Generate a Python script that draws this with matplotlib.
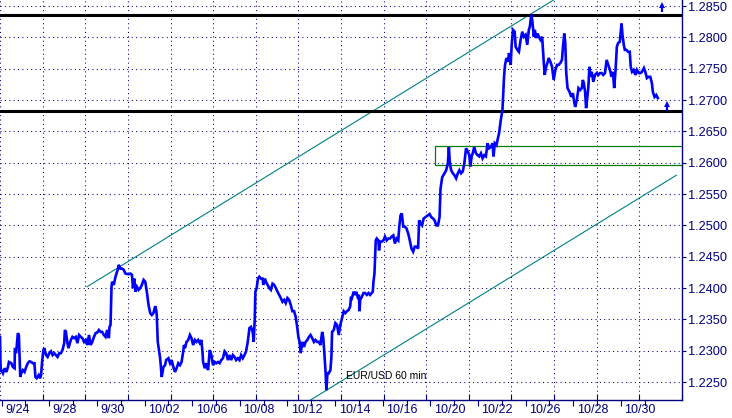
import matplotlib
matplotlib.use("Agg")
import matplotlib.pyplot as plt
import matplotlib.transforms as mtransforms
import numpy as np

# ---- data: hourly bar offset (hours since 9/24) and EUR/USD price ----
hours = [-1.7, -1, -0.3, 1.3, 3, 4.7, 6.3, 7.3, 9.7, 11.3, 13, 13.3, 14.7, 16.3, 17.3, 18, 18.7, 19.7,
         21.3, 23, 24.7, 26.3, 28, 29.7, 31.3, 33, 34, 35.3, 37.3, 38.7, 39.7, 40.7, 42, 43, 44.7,
         46.3, 48, 49.7, 51.3, 53, 54.7, 56.3, 58, 59.7, 61.3, 63, 63.7, 64.7, 66.3, 67.3, 68.7,
         69.7, 71.3, 73, 74.7, 76.3, 78, 79.7, 81.3, 83, 84.7, 86.3, 88, 89.7, 91.3, 93, 94.7, 96.3,
         98, 99.7, 101.3, 103, 104.7, 106.3, 108, 108.7, 109.7, 110.7, 111.3, 113, 114.7, 116.3,
         117.3, 118, 119.7, 121.3, 123, 124.7, 128, 129.7, 131.3, 132.3, 133.7, 134.7, 136.3, 138,
         139.7, 141.3, 143, 144.7, 146.3, 148, 149.7, 151.3, 153, 154.7, 155.7, 156.3, 157.3, 158.7,
         159.7, 161.3, 163, 164.7, 165.7, 168, 169.7, 171.3, 173, 174.7, 176.3, 178, 179.7, 181.3,
         183, 183.7, 184.7, 186.3, 188, 189.7, 191.3, 193, 194.7, 196.3, 198, 199.7, 201.3, 202.3,
         203, 204.7, 206.3, 208, 209.7, 211.3, 213, 214.7, 216.3, 218, 219.7, 221.3, 223, 224.7,
         226.3, 228, 229.7, 231.3, 233, 234.7, 236.3, 238, 239.7, 241.3, 243, 244.7, 246.3, 248,
         249.7, 251.3, 253, 254, 255, 255.7, 257, 258.3, 259.7, 261.3, 263, 263.7, 265.3, 266.3,
         268, 269.7, 271.3, 273, 274.7, 276.3, 278, 279.7, 281.3, 283, 284.7, 286.3, 288, 289.7,
         291.3, 293, 294.7, 296.3, 298, 299, 300.3, 301.3, 303, 304.7, 306.3, 308, 309.7, 311.3,
         313, 314.7, 316.3, 318, 319.7, 321.3, 323, 324, 325, 326.3, 327.3, 328.3, 329.7, 331.3,
         332.3, 333, 334.7, 336.3, 338, 339.7, 341.3, 343, 344.7, 346.3, 348, 349.7, 351.3, 352,
         353, 354.7, 356.3, 357.3, 358.7, 360, 360.7, 361.3, 363, 364.7, 366.3, 368, 369.7, 371.3,
         373, 374, 374.7, 375.7, 376.3, 377, 378, 379.7, 380.3, 381.3, 383, 384.7, 386.3, 388,
         389.7, 391.3, 393, 394.7, 396.3, 398, 399.7, 400.7, 402, 403.3, 404.7, 406.3, 408, 409.7,
         411.3, 413, 414.7, 416.3, 418, 419.7, 420.7, 422.3, 423.7, 425.3, 427, 429.7, 431.3, 433,
         434.7, 436.3, 438, 439.7, 441.3, 442.3, 444, 446.3, 448, 449.7, 450.7, 451.7, 453, 454.7,
         456.3, 458, 459.7, 461.3, 463, 464.7, 466.3, 468, 469.7, 471.3, 472.3, 473.7, 474.7, 476.3,
         478, 479.7, 481.3, 483, 484.7, 486.3, 488, 489.7, 491.3, 493, 494.7, 495.7, 497, 498.7,
         499.7, 501.3, 503, 504.7, 505.7, 506.3, 507.3, 508.7, 510.3, 511.3, 513, 514, 515.3, 517,
         518, 519.7, 521.3, 523, 524.7, 526.3, 528, 529.7, 531.3, 532.3, 533.7, 534.7, 536.3, 537.3,
         538.7, 540.3, 541.3, 543, 544.7, 546.3, 547.3, 548.7, 550, 551.3, 553, 554.7, 556.3, 558,
         559.7, 561.3, 563, 564.7, 565.7, 567, 568, 569, 570.3, 572.3, 574, 575.7, 577, 578, 579.7,
         581.3, 583, 584.7, 585.7, 586.7, 588, 589, 590.3, 591.3, 592.3, 593.7, 594.7, 596.3, 598,
         599.7, 601.3, 603, 604.7, 606.3, 608, 609.7, 611.3, 613, 614.7, 616, 617.3, 618.7, 620,
         621.3, 623, 624.7, 625.7, 627, 628, 629.7, 631.3, 633, 634, 635.3, 637, 638.7, 640.3, 642,
         643.7, 645.3, 647.3, 648.7, 650.3, 652, 653.7, 655.3, 656.3, 658, 659.7, 661.3]

price = [1.2322, 1.2266, 1.2269, 1.2264, 1.2272, 1.2266, 1.2274, 1.2282, 1.2280, 1.2274, 1.2272, 1.2301,
         1.2299, 1.2328, 1.2325, 1.2293, 1.2258, 1.2264, 1.2269, 1.2266, 1.2274, 1.2280, 1.2283,
         1.2282, 1.2280, 1.2280, 1.2258, 1.2256, 1.2261, 1.2256, 1.2261, 1.2282, 1.2301, 1.2304,
         1.2293, 1.2290, 1.2296, 1.2299, 1.2293, 1.2296, 1.2293, 1.2290, 1.2296, 1.2296, 1.2301,
         1.2312, 1.2333, 1.2330, 1.2312, 1.2304, 1.2312, 1.2317, 1.2322, 1.2320, 1.2322, 1.2312,
         1.2325, 1.2322, 1.2320, 1.2314, 1.2317, 1.2309, 1.2325, 1.2309, 1.2314, 1.2322, 1.2328,
         1.2329, 1.2333, 1.2330, 1.2330, 1.2325, 1.2322, 1.2333, 1.2320, 1.2338, 1.2341, 1.2402,
         1.2410, 1.2405, 1.2418, 1.2426, 1.2431, 1.2437, 1.2431, 1.2431, 1.2429, 1.2423, 1.2422,
         1.2423, 1.2421, 1.2400, 1.2415, 1.2394, 1.2402, 1.2397, 1.2400, 1.2405, 1.2413, 1.2410,
         1.2394, 1.2373, 1.2360, 1.2357, 1.2360, 1.2371, 1.2365, 1.2357, 1.2314, 1.2299, 1.2288,
         1.2258, 1.2274, 1.2277, 1.2285, 1.2288, 1.2280, 1.2285, 1.2274, 1.2266, 1.2272, 1.2280,
         1.2277, 1.2282, 1.2299, 1.2309, 1.2304, 1.2314, 1.2317, 1.2325, 1.2320, 1.2309, 1.2317,
         1.2314, 1.2317, 1.2312, 1.2317, 1.2299, 1.2282, 1.2272, 1.2280, 1.2269, 1.2301, 1.2293,
         1.2277, 1.2282, 1.2280, 1.2282, 1.2280, 1.2285, 1.2288, 1.2299, 1.2296, 1.2285, 1.2293,
         1.2285, 1.2293, 1.2290, 1.2285, 1.2288, 1.2285, 1.2293, 1.2288, 1.2293, 1.2299, 1.2314,
         1.2336, 1.2338, 1.2330, 1.2314, 1.2349, 1.2394, 1.2400, 1.2415, 1.2418, 1.2415, 1.2415,
         1.2405, 1.2415, 1.2410, 1.2405, 1.2400, 1.2397, 1.2407, 1.2405, 1.2400, 1.2394, 1.2389,
         1.2384, 1.2378, 1.2381, 1.2376, 1.2384, 1.2381, 1.2373, 1.2363, 1.2363, 1.2354, 1.2336,
         1.2322, 1.2314, 1.2296, 1.2314, 1.2306, 1.2314, 1.2317, 1.2322, 1.2325, 1.2320, 1.2314,
         1.2317, 1.2314, 1.2314, 1.2309, 1.2330, 1.2322, 1.2301, 1.2269, 1.2237, 1.2264, 1.2264,
         1.2269, 1.2290, 1.2330, 1.2333, 1.2344, 1.2341, 1.2325, 1.2341, 1.2352, 1.2363, 1.2360,
         1.2363, 1.2365, 1.2371, 1.2386, 1.2384, 1.2394, 1.2389, 1.2394, 1.2386, 1.2389, 1.2363,
         1.2381, 1.2386, 1.2392, 1.2392, 1.2389, 1.2392, 1.2389, 1.2392, 1.2394, 1.2410, 1.2423,
         1.2447, 1.2476, 1.2479, 1.2476, 1.2460, 1.2474, 1.2474, 1.2476, 1.2482, 1.2476, 1.2479,
         1.2479, 1.2482, 1.2484, 1.2471, 1.2479, 1.2476, 1.2498, 1.2516, 1.2519, 1.2498, 1.2498,
         1.2495, 1.2487, 1.2476, 1.2463, 1.2458, 1.2466, 1.2466, 1.2463, 1.2508, 1.2503, 1.2500,
         1.2511, 1.2513, 1.2516, 1.2518, 1.2513, 1.2511, 1.2508, 1.2500, 1.2500, 1.2513, 1.2559,
         1.2577, 1.2583, 1.2588, 1.2599, 1.2625, 1.2599, 1.2588, 1.2583, 1.2580, 1.2575, 1.2583,
         1.2588, 1.2583, 1.2586, 1.2599, 1.2623, 1.2618, 1.2612, 1.2594, 1.2610, 1.2615, 1.2625,
         1.2615, 1.2612, 1.2610, 1.2615, 1.2607, 1.2612, 1.2610, 1.2631, 1.2623, 1.2625, 1.2631,
         1.2610, 1.2631, 1.2628, 1.2636, 1.2647, 1.2668, 1.2684, 1.2716, 1.2737, 1.2756, 1.2767,
         1.2761, 1.2775, 1.2756, 1.2788, 1.2812, 1.2809, 1.2785, 1.2780, 1.2777, 1.2796, 1.2809,
         1.2801, 1.2804, 1.2788, 1.2812, 1.2817, 1.2836, 1.2828, 1.2801, 1.2812, 1.2799, 1.2806,
         1.2801, 1.2796, 1.2801, 1.2761, 1.2740, 1.2753, 1.2759, 1.2767, 1.2761, 1.2753, 1.2732,
         1.2748, 1.2756, 1.2756, 1.2759, 1.2764, 1.2785, 1.2806, 1.2791, 1.2743, 1.2719, 1.2713,
         1.2705, 1.2711, 1.2697, 1.2689, 1.2700, 1.2719, 1.2716, 1.2719, 1.2732, 1.2727, 1.2713,
         1.2687, 1.2705, 1.2721, 1.2753, 1.2737, 1.2745, 1.2729, 1.2740, 1.2743, 1.2740, 1.2743,
         1.2743, 1.2740, 1.2743, 1.2764, 1.2756, 1.2748, 1.2737, 1.2745, 1.2719, 1.2748, 1.2785,
         1.2791, 1.2793, 1.2822, 1.2804, 1.2788, 1.2780, 1.2780, 1.2777, 1.2777, 1.2753, 1.2745,
         1.2748, 1.2740, 1.2748, 1.2743, 1.2743, 1.2745, 1.2751, 1.2745, 1.2735, 1.2737, 1.2737,
         1.2727, 1.2713, 1.2705, 1.2708, 1.2703]

# tick labels (every 2 trading days = 48 hourly bars)
date_labels = ["9/24", "9/28", "9/30", "10/02", "10/06", "10/08", "10/12", "10/14",
               "10/16", "10/20", "10/22", "10/26", "10/28", "10/30"]
y_ticks = [1.2250, 1.2300, 1.2350, 1.2400, 1.2450, 1.2500, 1.2550, 1.2600,
           1.2650, 1.2700, 1.2750, 1.2800, 1.2850]

# annotation levels
resistance = 1.2836
support = 1.2683
zone_start, zone_low, zone_high = 437.0, 1.2597, 1.2627
upper_channel_x = [86, 570]
upper_channel_y = [1.2402, 1.2873]
lower_channel_x = [311, 680]
lower_channel_y = [1.2221, 1.2580]
arrow1 = (665, 1.2841, 1.2855)
arrow2 = (671, 1.2683, 1.2697)

NAVY = "#000080"
plt.rcParams['font.family'] = ['Liberation Sans', 'DejaVu Sans']

fig = plt.figure(figsize=(7.32, 4.18), dpi=100)
ax = fig.add_axes([0, 18/418, 682/732, 400/418])
ax.set_xlim(-1.7, 679)
ax.set_ylim(1.22213, 1.28596)

# grid
grid_x = [-1.7 + 42.96 * k for k in range(17)]
for gx in grid_x:
    ax.axvline(gx, color=NAVY, lw=0.75, ls=(0, (1, 3.2)), zorder=1)
for gy in y_ticks:
    ax.axhline(gy, color=NAVY, lw=0.75, ls=(0, (1, 3.2)), zorder=1)

# channel lines
ax.plot(upper_channel_x, upper_channel_y, color="#008080", lw=0.8, zorder=2)
ax.plot(lower_channel_x, lower_channel_y, color="#008080", lw=0.8, zorder=2)

# support/resistance
ax.axhline(resistance, color="black", lw=2.2, zorder=3)
ax.axhline(support, color="black", lw=2.2, zorder=3)

# green zone
ax.add_patch(plt.Rectangle((zone_start, zone_low), 700 - zone_start, zone_high - zone_low,
                           fill=False, edgecolor="#008000", lw=0.9, zorder=3))

# price line
ax.plot(hours, price, color="#0000FF", lw=1.9, zorder=4, solid_joinstyle='miter')

# arrows (shaft + triangular head)
for ax_x, y0, y1 in (arrow1, arrow2):
    ax.plot([ax_x, ax_x], [y0, y1 - 0.0004], color="#0000FF", lw=1.6, zorder=5,
            solid_capstyle='butt', clip_on=False)
    ax.plot([ax_x], [y1 - 0.0003], marker="^", ms=5, color="#0000FF", mew=0, zorder=5,
            clip_on=False)

ax.text(347, 1.2259, "EUR/USD 60 min", fontsize=7.5, color="black", va="center", ha="left", zorder=5)

# spines
for s in ("left", "top"):
    ax.spines[s].set_visible(False)
for s in ("right", "bottom"):
    ax.spines[s].set_color(NAVY)
    ax.spines[s].set_linewidth(1.0)

# y axis on right
ax.yaxis.tick_right()
ax.set_yticks(y_ticks)
ax.set_yticklabels([f"{v:.4f}" for v in y_ticks])
ax.tick_params(axis="y", direction="out", length=3, width=0.8, color=NAVY,
               labelsize=9.2, pad=1, labelcolor=NAVY)

# x axis ticks
major_x = [48 * i for i in range(len(date_labels))]
ax.set_xticks(major_x)
ax.set_xticklabels(date_labels)
ax.tick_params(axis="x", direction="out", length=4, width=0.8, color=NAVY,
               labelsize=9, pad=-1, labelcolor=NAVY)
offset = mtransforms.ScaledTranslation(3.5/100, 0, fig.dpi_scale_trans)
for lbl in ax.get_xticklabels():
    lbl.set_horizontalalignment("left")
    lbl.set_transform(lbl.get_transform() + offset)

# minor ticks (inward) at grid positions
ax.set_xticks(grid_x[1:], minor=True)
ax.tick_params(axis="x", which="minor", direction="in", length=4, width=0.8, color=NAVY)

# daily ticks between labels
trans = mtransforms.blended_transform_factory(ax.transData, ax.transAxes)
for d in range(1, 29, 2):
    ax.plot([24 * d, 24 * d], [0, -0.012], color=NAVY, lw=0.8, transform=trans, clip_on=False)

fig.savefig("out.png", dpi=100)
